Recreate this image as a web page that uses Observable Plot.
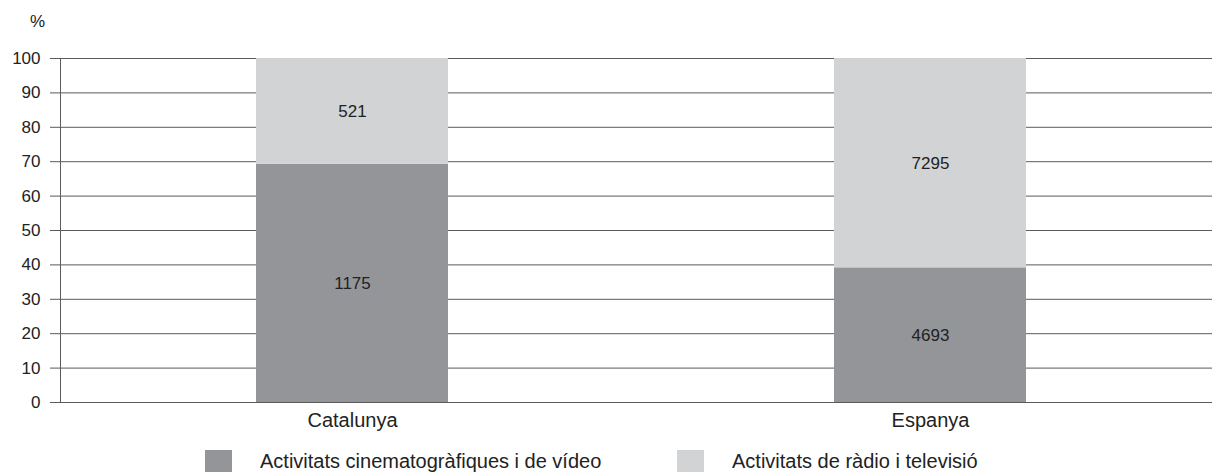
<!DOCTYPE html>
<html>
<head>
<meta charset="utf-8">
<script src="https://cdn.jsdelivr.net/npm/d3@7"></script>
<script src="https://cdn.jsdelivr.net/npm/@observablehq/plot@0.6"></script>
<style>
  body { margin: 0; background: #fff; font-family: "Liberation Sans", Arial, Helvetica, sans-serif; }
  #wrap { position: relative; width: 1212px; height: 472px; overflow: hidden; }
  #unit { position: absolute; left: 30px; top: 12px; font-size: 17px; color: #222; }
  #legend { position: absolute; left: 205px; top: 450px; display: flex; font-size: 20px; color: #222; }
  .item { display: flex; align-items: flex-start; }
  .item:first-child { width: 472px; }
  .sw { width: 27px; height: 27px; margin-right: 28px; box-sizing: border-box; }
  .lbl { line-height: 27px; margin-top: -2px; }
</style>
</head>
<body>
<div id="wrap">
  <div id="unit">%</div>
  <div id="chart"></div>
  <div id="legend"></div>
</div>
<script>
const regions = ["Catalunya", "Espanya"];
const seriesNames = ["Activitats cinematogràfiques i de vídeo", "Activitats de ràdio i televisió"];
const cinemaValues = [1175, 4693];
const radioValues = [521, 7295];
const seriesColors = ["#939598", "#d1d3d4"];
const yTicks = [0, 10, 20, 30, 40, 50, 60, 70, 80, 90, 100];

const rows = [];
regions.forEach((r, i) => {
  const total = cinemaValues[i] + radioValues[i];
  rows.push({region: r, series: seriesNames[0], value: cinemaValues[i], pct: cinemaValues[i] / total * 100});
  rows.push({region: r, series: seriesNames[1], value: radioValues[i], pct: radioValues[i] / total * 100});
});

const font = '"Liberation Sans", Arial, Helvetica, sans-serif';

const chart = Plot.plot({
  width: 1212,
  height: 445,
  marginLeft: 60,
  marginRight: 0,
  marginTop: 58,
  marginBottom: 43,
  style: {fontFamily: font, color: "#222", background: "#fff"},
  x: {type: "band", domain: regions, paddingInner: 0.668, paddingOuter: 0.33, align: 0.513, label: null},
  y: {domain: [0, 100], ticks: yTicks, label: null},
  color: {domain: seriesNames, range: seriesColors},
  marks: [
    Plot.gridY(yTicks, {stroke: "#5a5a5a", strokeOpacity: 1, strokeWidth: 1}),
    Plot.barY(rows, Plot.stackY({x: "region", y: "pct", fill: "series", order: seriesNames})),
    Plot.text(rows, Plot.stackY({x: "region", y: "pct", z: "series", order: seriesNames, text: d => String(d.value), fontSize: 17, fill: "#222"})),
    Plot.axisY(yTicks, {tickSize: 10, tickPadding: 10, fontSize: 17, stroke: "#5a5a5a", label: null}),
    Plot.axisX({tickSize: 0, tickPadding: 10, fontSize: 20, label: null}),
    Plot.frame({anchor: "left", stroke: "#5a5a5a"}),
    Plot.ruleY([0], {stroke: "#5a5a5a"})
  ]
});
document.getElementById("chart").appendChild(chart);

const legend = document.getElementById("legend");
seriesNames.forEach((name, i) => {
  const item = document.createElement("div");
  item.className = "item";
  const sw = document.createElement("div");
  sw.className = "sw";
  sw.style.background = seriesColors[i];
  const lbl = document.createElement("div");
  lbl.className = "lbl";
  lbl.textContent = name;
  item.appendChild(sw);
  item.appendChild(lbl);
  legend.appendChild(item);
});
</script>
</body>
</html>
